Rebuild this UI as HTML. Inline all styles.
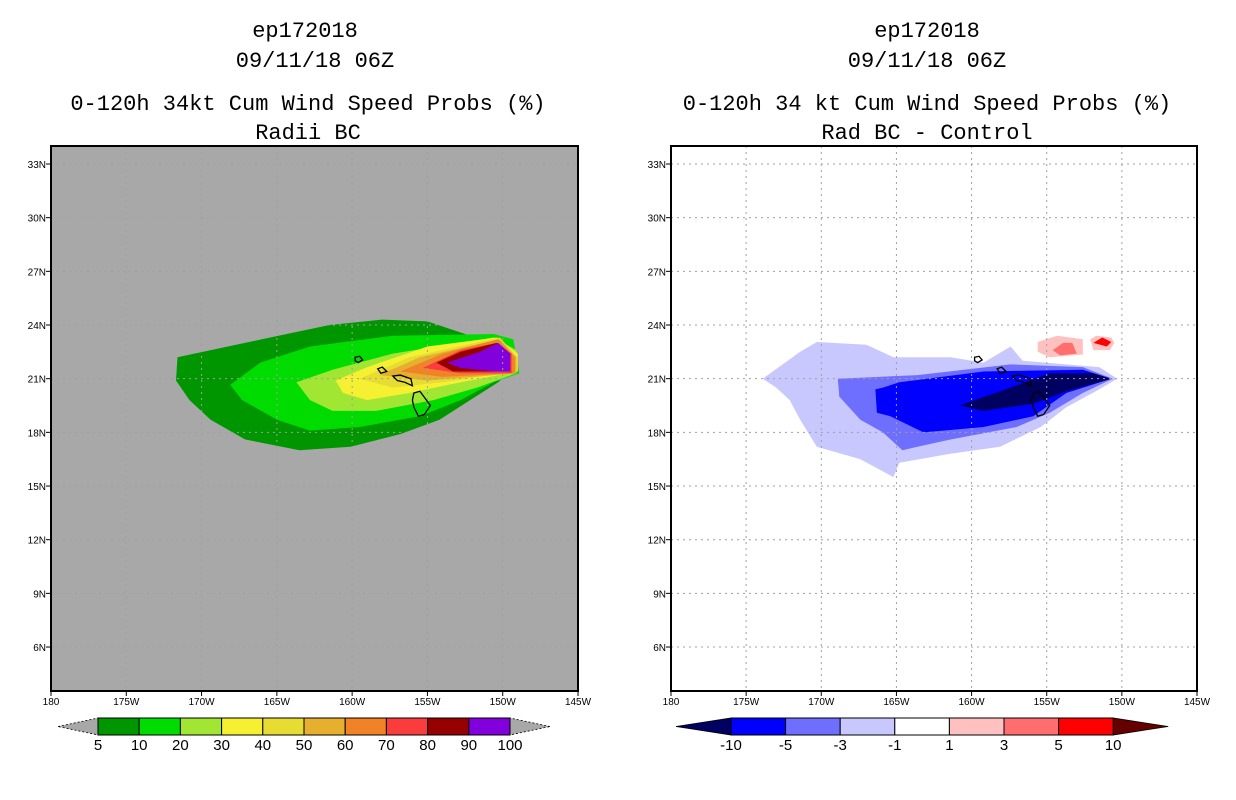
<!DOCTYPE html>
<html><head><meta charset="utf-8"><style>
body{margin:0;background:#fff;width:1236px;height:800px;overflow:hidden}
svg{display:block}
text{font-family:"Liberation Sans",sans-serif;fill:#000}
.ttl text{font-family:"Liberation Mono",monospace}
</style></head><body>
<svg id="c" width="1236" height="800" viewBox="0 0 1236 800">
<g class="ttl" font-size="22" text-anchor="middle">
<text x="305" y="37">ep172018</text>
<text x="315" y="67">09/11/18 06Z</text>
<text x="308" y="110">0-120h 34kt Cum Wind Speed Probs (%)</text>
<text x="308" y="139">Radii BC</text>
</g>
<g class="ttl" font-size="22" text-anchor="middle">
<text x="927" y="37">ep172018</text>
<text x="927" y="67">09/11/18 06Z</text>
<text x="927" y="110">0-120h 34 kt Cum Wind Speed Probs (%)</text>
<text x="927" y="139">Rad BC - Control</text>
</g>
</svg>
<script>
// ---- data ----
const lonTicks=[180,175,170,165,160,155,150,145];
const lonLabels=["180","175W","170W","165W","160W","155W","150W","145W"];
const latTicks=[33,30,27,24,21,18,15,12,9,6];
const latLabels=["33N","30N","27N","24N","21N","18N","15N","12N","9N","6N"];
const probLevels=["5","10","20","30","40","50","60","70","80","90","100"];
const probColors=["#009600","#00dc00","#a0e632","#f5f032","#e6dc32","#e6af2d","#f08228","#fa3c3c","#960000","#8200dc"];
const diffLevels=["-10","-5","-3","-1","1","3","5","10"];
const diffColors=["#000060","#0000ff","#6e6eff","#c8c8ff","#ffffff","#ffc0c0","#ff6e6e","#ff0000"];
// probability contours [deg W, deg N]
const p5=[[171.6,22.2],[171.7,20.9],[170.8,19.8],[169.4,18.7],[167.1,17.6],[163.5,17.0],[160.1,17.2],[156.8,17.9],[154.2,18.7],[151.8,20.0],[150.3,20.8],[149.8,21.2],[150.5,22.7],[152.5,23.5],[155,24.2],[158,24.3],[161.5,24.0],[166,23.2],[168.8,22.7]];
const p10=[[168.1,20.65],[166.1,21.9],[162.8,22.8],[157.3,23.4],[150.6,23.5],[149.3,23.2],[148.9,21.3],[150.6,20.8],[152.8,19.8],[155.5,18.9],[159.5,18.3],[162.8,18.1],[165,18.7],[167.3,19.8]];
const p20=[[163.7,20.8],[161.3,21.5],[157.3,22.4],[150.6,23.3],[149.1,22.6],[149.1,21.3],[151.7,20.5],[154.6,19.8],[158.4,19.2],[161.3,19.2],[162.8,19.8]];
const p30=[[161.1,20.9],[159,21.65],[155,22.8],[150.4,23.3],[149,22.4],[149,21.4],[152.8,20.8],[156.2,20.2],[159,19.8],[160.6,20.2]];
const p40=[[159.5,21.0],[156.2,22.2],[150.2,23.3],[149,22.2],[149,21.4],[154,20.8],[157.3,20.5]];
const p50=[[158.2,21.2],[155.5,22.2],[150.2,23.2],[149.1,22.2],[149.1,21.3],[155,20.9]];
const p60=[[156.8,21.4],[154,22.4],[150.3,23.2],[149.2,22.2],[149.2,21.3],[154,21.1]];
const p70=[[155.3,21.6],[152.8,22.6],[150.4,23.0],[149.4,22.4],[149.4,21.3],[152.8,21.3]];
const p80=[[154.4,21.9],[152.8,22.5],[150.4,23.0],[149.5,22.4],[149.5,21.4],[153.3,21.4]];
const p90=[[153.7,21.9],[151.5,22.5],[150.3,23.0],[149.5,22.4],[149.5,21.4],[150.6,21.4],[152.8,21.6]];
const probContours=[p5,p10,p20,p30,p40,p50,p60,p70,p80,p90];
// difference contours
const dm1=[[173.9,21.0],[171.4,22.5],[170.3,23.05],[167,22.9],[165.2,22.2],[161.4,22.2],[159.2,21.9],[157.4,22.8],[156.6,22.0],[151.5,21.65],[150.3,21.0],[151.5,20.4],[153.7,19.4],[155.4,18.3],[158.1,17.2],[161.4,16.8],[164.8,16.3],[165.2,15.5],[167.4,16.5],[170.3,17.2],[171.4,18.7],[172.1,19.8],[173,20.5]];
const dm3=[[168.9,21.0],[163.6,21.2],[157.4,21.8],[152.6,21.65],[150.6,21.0],[152.6,20.2],[154.8,19.1],[157,18.3],[161.4,17.6],[163.6,17.2],[164.6,17.0],[165.9,18.0],[167.4,18.7],[168.8,20.0]];
const dm5=[[166.4,20.4],[165.9,20.5],[164.8,20.8],[159.2,21.4],[152.6,21.5],[150.7,21.0],[153.7,20.2],[155.9,18.9],[159.2,18.3],[163.2,18.0],[165.4,18.9],[166.3,19.1]];
const dm10=[[160.8,19.5],[157.4,20.5],[154.8,21.3],[151.9,21.3],[150.7,21.0],[153.7,20.3],[155.9,19.6],[159.2,19.2]];
const dp1a=[[155.6,23.05],[154.3,23.4],[152.6,23.2],[152.6,22.35],[154.8,22.2],[155.6,22.5]];
const dp3a=[[154.6,22.6],[153.9,23.0],[153.3,23.0],[153,22.4],[154.1,22.3]];
const dp1b=[[152.1,23.2],[151.7,23.4],[150.7,23.3],[150.5,23.0],[150.8,22.6],[151.9,22.6]];
const dp5b=[[151.9,23.0],[151.3,23.3],[150.7,23.05],[151,22.8]];
const diffContours=[[dm1,3],[dm3,2],[dm5,1],[dm10,0],[dp1a,5],[dp3a,6],[dp1b,5],[dp5b,7]];
// Hawaiian islands outlines
const kauai=[[159.8,22.2],[159.5,22.25],[159.3,22.05],[159.6,21.9],[159.8,22.0]];
const oahu=[[158.3,21.55],[158.0,21.65],[157.7,21.4],[158.1,21.3]];
const maui=[[157.3,21.15],[156.8,21.2],[156.1,21.0],[156.0,20.6],[156.5,20.8],[157.0,20.9]];
const bigIsland=[[155.9,20.2],[155.5,20.3],[154.8,19.5],[155.2,19.0],[155.6,18.9],[155.9,19.4],[156.0,19.8]];
const islands=[kauai,oahu,maui,bigIsland];

// ---- drawing ----
const NS='http://www.w3.org/2000/svg';
const svg=document.getElementById('c');
const PY0=164, PYK=17.89, TOP=146, BOT=691;
function ys(lat){return PY0+(33-lat)*PYK;}
function mk(tag,attrs,parent){const e=document.createElementNS(NS,tag);for(const k in attrs)e.setAttribute(k,attrs[k]);(parent||svg).appendChild(e);return e;}
function panel(x0,x1,bg,name){
  const xs=w=>x0+(180-w)*(x1-x0)/35;
  const g=mk('g',{});
  
  
  const r=mk('rect',{x:x0,y:TOP,width:x1-x0,height:BOT-TOP,fill:bg},g);
  
  
  return {g,xs};
}
function poly(p,pts,fill,stroke,name){
  const e=mk('polygon',{points:pts.map(q=>p.xs(q[0]).toFixed(1)+','+ys(q[1]).toFixed(1)).join(' '),fill:fill,stroke:stroke||'none','stroke-width':stroke?1.3:0},p.g);
  
  
}
function grid(p,x0,x1,color){
  lonTicks.forEach((w,i)=>{
    if(i>0&&i<lonTicks.length-1){
      const l=mk('line',{x1:p.xs(w),x2:p.xs(w),y1:TOP,y2:BOT,stroke:color,'stroke-dasharray':'2,4'},p.g);
      
      
    }
  });
  latTicks.forEach(lat=>{
    const l=mk('line',{x1:x0,x2:x1,y1:ys(lat),y2:ys(lat),stroke:color,'stroke-dasharray':'2,4'},p.g);
    
    
  });
}
function axes(p,x0,x1){
  const f=mk('rect',{x:x0,y:TOP,width:x1-x0,height:BOT-TOP,fill:'none',stroke:'#000','stroke-width':2},p.g);
  
  
  lonTicks.forEach((w,i)=>{
    const x=p.xs(w);
    mk('line',{x1:x,x2:x,y1:BOT,y2:BOT+5,stroke:'#000'},p.g);
    const t=mk('text',{x:x,y:BOT+14,'font-size':10,'text-anchor':'middle'},p.g);
    t.textContent=lonLabels[i];
    
    
  });
  latTicks.forEach((lat,i)=>{
    const y=ys(lat);
    mk('line',{x1:x0-5,x2:x0,y1:y,y2:y,stroke:'#000'},p.g);
    const t=mk('text',{x:x0-5,y:y+4,'font-size':10,'text-anchor':'end'},p.g);
    t.textContent=latLabels[i];
    
    
  });
}
function colorbar(x0,tri,bw,colors,labels,name,triL,triR){
  const g=mk('g',{});
  
  
  const y=718,h=17,n=colors.length,end=x0+tri+n*bw;
  const a=mk('polygon',{points:`${x0},${y+h/2} ${x0+tri},${y} ${x0+tri},${y+h}`,fill:triL,stroke:'#000','stroke-width':0.8,'stroke-dasharray':triL==='#a8a8a8'?'2,2':'none'},g);
  
  
  const b=mk('polygon',{points:`${end+tri},${y+h/2} ${end},${y} ${end},${y+h}`,fill:triR,stroke:'#000','stroke-width':0.8,'stroke-dasharray':triR==='#a8a8a8'?'2,2':'none'},g);
  
  
  colors.forEach((c,i)=>{
    const r=mk('rect',{x:x0+tri+i*bw,y:y,width:bw,height:h,fill:c,stroke:'#000','stroke-width':1},g);
    
    
  });
  labels.forEach((l,i)=>{
    const t=mk('text',{x:x0+tri+i*bw,y:750,'font-size':15,'text-anchor':'middle'},g);
    t.textContent=l;
    
    
  });
}
// left panel
const L=panel(51,578,'#a8a8a8','left-map-panel');
probContours.forEach((c,i)=>poly(L,c,probColors[i],null,'prob-contour-'+probLevels[i]));
grid(L,51,578,'#a0a0a0');
islands.forEach(s=>poly(L,s,'none','#000','island-outline'));
axes(L,51,578);
// right panel
const R=panel(671,1197,'#ffffff','right-map-panel');
diffContours.forEach(([c,k])=>poly(R,c,diffColors[k],null,'diff-contour-'+diffLevels[k]));
grid(R,671,1197,'#a0a0a0');
islands.forEach(s=>poly(R,s,'none','#000','island-outline'));
axes(R,671,1197);
colorbar(58,40,41.2,probColors,probLevels,'prob-colorbar','#a8a8a8','#a8a8a8');
colorbar(676,55,54.6,diffColors.slice(1),diffLevels,'diff-colorbar','#000060','#640000');
</script>
</body></html>
